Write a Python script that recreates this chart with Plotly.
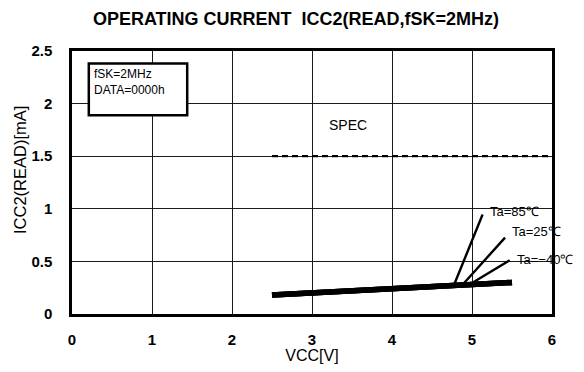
import plotly.graph_objects as go

# Data
vcc = [2.5, 3.0, 3.5, 4.0, 4.5, 5.0, 5.5]
icc_85 = [0.18, 0.20, 0.22, 0.24, 0.26, 0.28, 0.30]
icc_25 = [0.18, 0.20, 0.22, 0.24, 0.26, 0.28, 0.30]
icc_m40 = [0.18, 0.20, 0.22, 0.24, 0.26, 0.28, 0.30]
spec_vcc = [2.5, 6.0]
spec_icc = [1.5, 1.5]
labels = ["Ta=85℃", "Ta=25℃", "Ta=−40℃"]
label_vcc = [4.78, 4.89, 4.99]
label_icc = [0.285, 0.285, 0.29]
x_ticks = [0, 1, 2, 3, 4, 5, 6]
y_ticks = [0, 0.5, 1, 1.5, 2, 2.5]
y_ticktext = ["0", "0.5", "1", "1.5", "2", "2.5"]

FONT = "Liberation Sans, Arial, sans-serif"

# page body has an 8px margin: figure is drawn 8px right/down
W, H = 568, 356
L, R, T, B = 64, 24, 43, 50
PW, PH = W - L - R, H - T - B

fig = go.Figure()
for ys in (icc_m40, icc_25, icc_85):
    fig.add_trace(go.Scatter(x=vcc, y=ys, mode="lines",
                             line=dict(color="black", width=5.5), showlegend=False,
                             hoverinfo="skip"))
fig.add_trace(go.Scatter(x=spec_vcc, y=spec_icc, mode="lines",
                         line=dict(color="black", width=2.2, dash="6px,4px"),
                         showlegend=False, hoverinfo="skip"))

# leader lines and labels
tips = [(5.14, 0.96), (5.43, 0.74), (5.49, 0.52)]
text_pos = [(5.20, 0.975), (5.47, 0.78), (5.54, 0.515)]
for lab, lx, ly, (tx, ty), (px, py) in zip(labels, label_vcc, label_icc, tips, text_pos):
    fig.add_annotation(x=lx, y=ly, ax=tx, ay=ty, axref="x", ayref="y",
                       xref="x", yref="y", text="", showarrow=True,
                       arrowhead=0, arrowwidth=2.4, arrowcolor="black")
    fig.add_annotation(x=px, y=py, xref="x", yref="y", text=lab, showarrow=False,
                       xanchor="left", yanchor="middle",
                       font=dict(family=FONT, size=13, color="black"))

fig.add_annotation(x=3.45, y=1.80, xref="x", yref="y", text="SPEC", showarrow=False,
                   font=dict(family=FONT, size=14, color="black"))

# info box
fig.add_shape(type="rect", x0=0.21, x1=1.44, y0=1.89, y1=2.38, xref="x", yref="y",
              line=dict(color="black", width=2.5), fillcolor="white", layer="above")
fig.add_annotation(x=0.25, y=2.37, xref="x", yref="y",
                   text="fSK=2MHz<br>DATA=0000h", showarrow=False, align="left",
                   xanchor="left", yanchor="top",
                   font=dict(family=FONT, size=12, color="black"))

# y axis title
fig.add_annotation(x=(12 - L) / PW, y=(T + PH - 162) / PH, xref="paper", yref="paper",
                   text="ICC2(READ)[mA]", textangle=-90, showarrow=False,
                   xanchor="center", yanchor="middle",
                   font=dict(family=FONT, size=16.5, color="black"))

fig.update_layout(
    width=W, height=H,
    margin=dict(l=L, r=R, t=T, b=B, autoexpand=False),
    paper_bgcolor="white", plot_bgcolor="white",
    title=dict(text="<b>OPERATING CURRENT  ICC2(READ,fSK=2MHz)</b>",
               x=288 / W, xanchor="center", y=1 - 11 / H, yanchor="middle",
               font=dict(family=FONT, size=18, color="black")),
    font=dict(family=FONT, color="black"),
)
fig.update_xaxes(range=[0, 6], tickvals=x_ticks, showgrid=True, gridcolor="#1a1a1a",
                 gridwidth=1, showline=True, linecolor="black", linewidth=2.5,
                 mirror=True, zeroline=False, ticks="", ticklabelstandoff=10,
                 automargin=False,
                 tickfont=dict(family=FONT, size=15, weight="bold"),
                 title=dict(text="VCC[V]", font=dict(family=FONT, size=16), standoff=0))
fig.update_yaxes(range=[0, 2.5], tickvals=y_ticks, ticktext=y_ticktext, showgrid=True,
                 gridcolor="#1a1a1a", gridwidth=1, showline=True, linecolor="black",
                 linewidth=2.5, mirror=True, zeroline=False, ticks="",
                 ticklabelstandoff=14, automargin=False,
                 tickfont=dict(family=FONT, size=15, weight="bold"))

fig.write_html("out.html")
